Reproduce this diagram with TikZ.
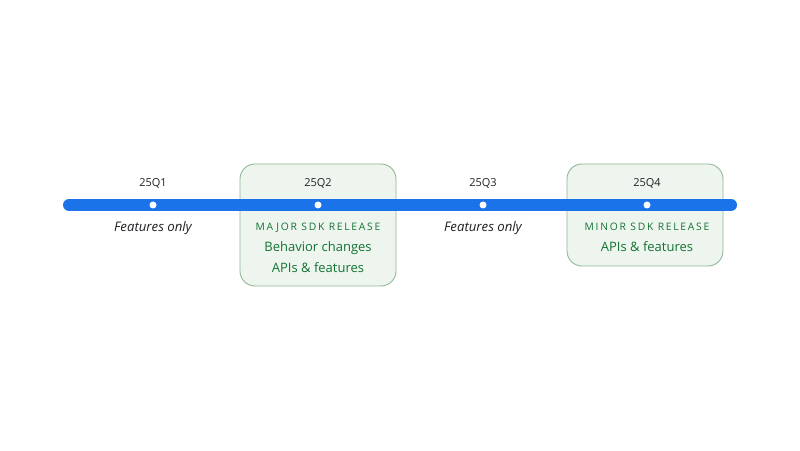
\documentclass[tikz,border=0pt]{standalone}
\usepackage{fontspec}
\setmainfont{Open Sans}
\newfontfamily\spacedfont[LetterSpace=17]{Open Sans}
\definecolor{tlblue}{HTML}{1A73E8}
\definecolor{boxfill}{HTML}{EEF5EE}
\definecolor{boxline}{HTML}{8FB894}
\definecolor{txtgreen}{HTML}{137333}
\definecolor{txtgray}{HTML}{202124}
\begin{document}
\begin{tikzpicture}[x=1pt,y=1pt,
  relbox/.style={draw=boxline, fill=boxfill, rounded corners=15pt, line width=0.9pt},
  qlabel/.style={font=\fontsize{11}{13}\selectfont, text=txtgray, anchor=base, inner sep=0pt},
  featlabel/.style={font=\fontsize{13.2}{15}\selectfont\itshape, text=txtgray, anchor=base, inner sep=0pt},
  kindlabel/.style={font=\fontsize{10.3}{12}\spacedfont, text=txtgreen, anchor=base, inner sep=0pt},
  detlabel/.style={font=\fontsize{13}{15}\selectfont, text=txtgreen, anchor=base, inner sep=0pt},
  qdot/.style={circle, fill=white, inner sep=0pt, minimum size=7pt},
  tline/.style={draw=tlblue, line width=12pt, line cap=round}]
\useasboundingbox (0,0) rectangle (800,450);
\fill[white] (0,0) rectangle (800,450);
% boxes
\draw[relbox] (240,164) rectangle (396,286);
\draw[relbox] (567,184) rectangle (723,286);
% timeline
\coordinate (tstart) at (69,245);
\coordinate (tend) at (731,245);
\draw[tline] (tstart) -- (tend);
\node[qdot] (d1) at (153,245) {};
\node[qdot] (d2) at (318,245) {};
\node[qdot] (d3) at (483,245) {};
\node[qdot] (d4) at (647,245) {};
% quarter labels
\node[qlabel] (q1) at (153,263) {25Q1};
\node[qlabel] (q2) at (318,263) {25Q2};
\node[qlabel] (q3) at (483,263) {25Q3};
\node[qlabel] (q4) at (647,263) {25Q4};
% below labels
\node[featlabel] (f1) at (153,218) {Features only};
\node[featlabel] (f3) at (483,218) {Features only};
\node[kindlabel] (k2) at (318,219) {MAJOR SDK RELEASE};
\node[detlabel] (b2) at (318,198) {Behavior changes};
\node[detlabel] (a2) at (318,177) {APIs \& features};
\node[kindlabel] (k4) at (647,219) {MINOR SDK RELEASE};
\node[detlabel] (a4) at (647,198) {APIs \& features};
\end{tikzpicture}
\end{document}
